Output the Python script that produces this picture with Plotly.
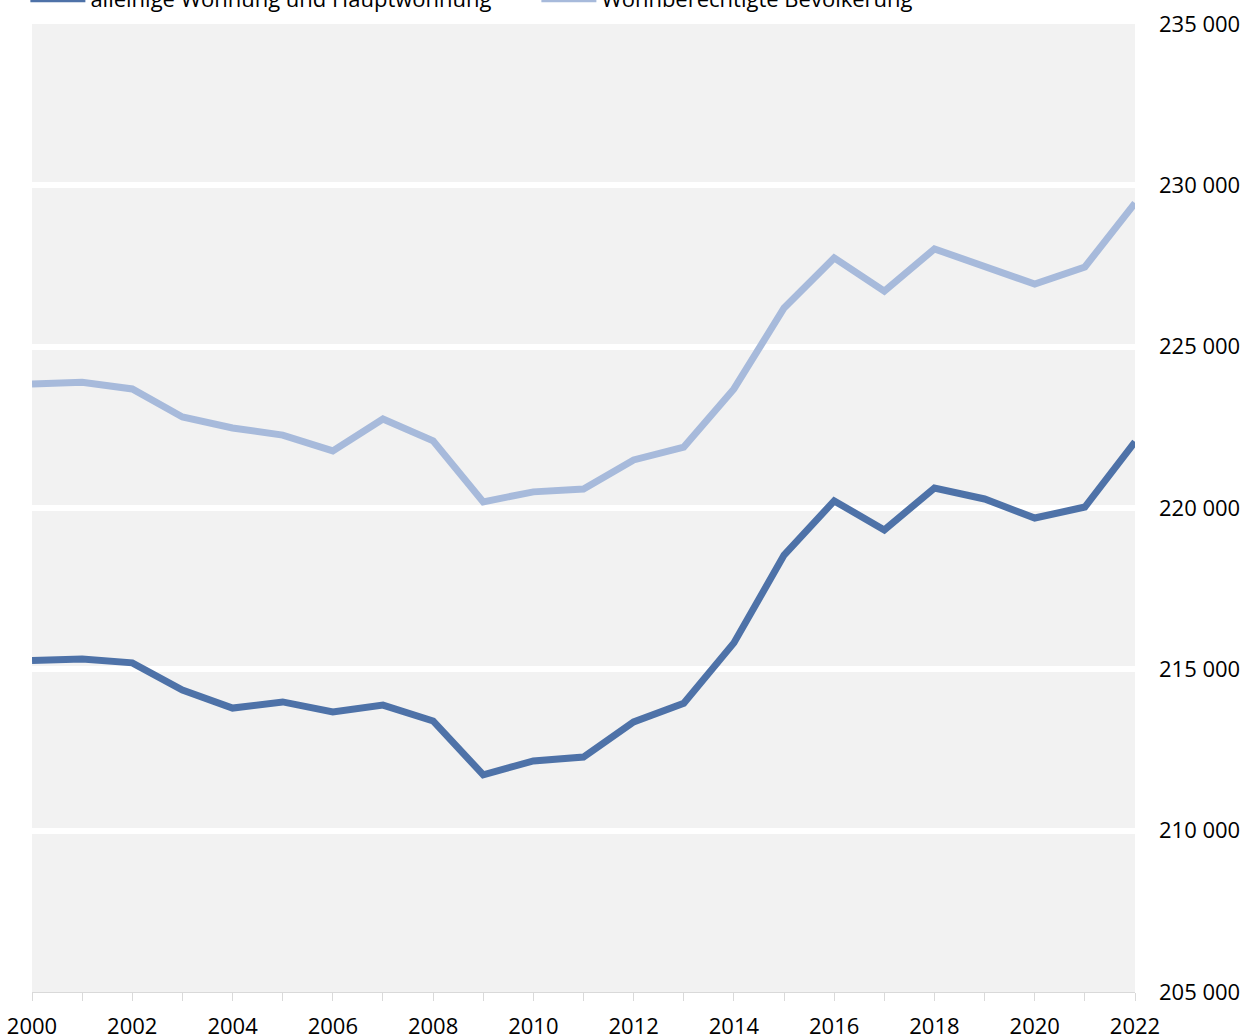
import plotly.graph_objects as go

years = list(range(2000, 2023))
haupt = [215270, 215320, 215200, 214360, 213800, 213990, 213680, 213890, 213400,
         211730, 212160, 212280, 213370, 213950, 215820, 218540, 220220, 219320,
         220620, 220280, 219690, 220030, 222050]
wohnber = [223840, 223900, 223690, 222820, 222480, 222260, 221770, 222760, 222080,
           220190, 220500, 220590, 221490, 221890, 223690, 226200, 227750, 226720,
           228030, 227470, 226940, 227470, 229450]
series_names = ["alleinige Wohnung und Hauptwohnung", "Wohnberechtigte Bevölkerung"]
colors = ["#4E72A8", "#A7BADB"]

fig = go.Figure()
fig.add_trace(go.Scatter(x=years, y=haupt, mode="lines", name=series_names[0],
                         line=dict(color=colors[0], width=7)))
fig.add_trace(go.Scatter(x=years, y=wohnber, mode="lines", name=series_names[1],
                         line=dict(color=colors[1], width=7)))

font_family = "Open Sans"
fig.update_layout(
    width=1254, height=1036,
    margin=dict(l=32, r=119, t=24, b=44, autoexpand=False),
    paper_bgcolor="white", plot_bgcolor="#F2F2F2",
    separators=". ",
    font=dict(family=font_family, size=22, color="#000000"),
    showlegend=True,
    legend=dict(orientation="h", xref="paper", yref="paper", x=-0.006, y=1.026,
                xanchor="left", yanchor="middle", itemwidth=55,
                entrywidth=441, font=dict(size=22, family=font_family),
                bgcolor="rgba(0,0,0,0)", tracegroupgap=0),
    xaxis=dict(range=[2000, 2022], dtick=2, tick0=2000, showgrid=False, zeroline=False,
               ticks="outside", ticklen=8, tickcolor="#D9D9D9", tickwidth=1,
               showline=True, linecolor="#D9D9D9", linewidth=1,
               minor=dict(dtick=1, ticks="outside", ticklen=8, tickcolor="#D9D9D9", showgrid=False),
               tickfont=dict(size=22), ticklabelstandoff=7),
    yaxis=dict(range=[205000, 235000], dtick=5000, side="right", showgrid=True,
               tickformat=",d",
               gridcolor="white", gridwidth=6, zeroline=False, ticks="",
               tickfont=dict(size=22), ticklabelstandoff=23),
)

fig.write_html("out.html", config={"displayModeBar": False},
               post_script="document.body.style.margin='0px';")
